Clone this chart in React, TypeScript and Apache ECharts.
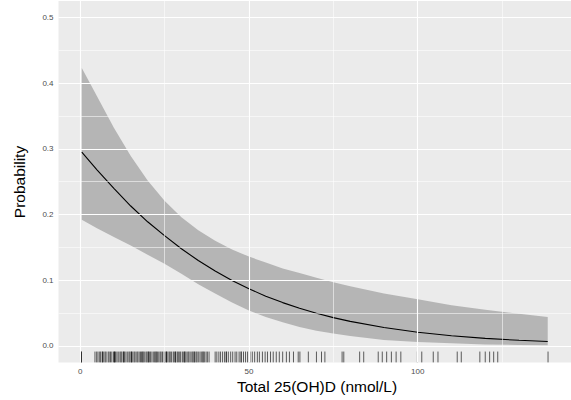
import React, { useEffect, useRef } from "react";
import * as echarts from "echarts";

// x positions (nmol/L) at which the fitted curve and its band were read
const xFit = [0.5, 5, 10, 15, 20, 25, 30, 35, 40, 45, 50, 55, 60, 65, 70, 75, 80, 90, 100, 110, 120, 130, 138.5];
const fitP = [0.295, 0.268, 0.24, 0.213, 0.189, 0.168, 0.148, 0.13, 0.114, 0.0996, 0.087, 0.0758, 0.066, 0.0573, 0.0498, 0.0431, 0.0374, 0.028, 0.0209, 0.0156, 0.0116, 0.0086, 0.0067];
const upperP = [0.423, 0.38, 0.332, 0.289, 0.252, 0.221, 0.196, 0.176, 0.16, 0.147, 0.136, 0.127, 0.118, 0.111, 0.104, 0.097, 0.091, 0.08, 0.071, 0.062, 0.055, 0.049, 0.044];
const lowerP = [0.192, 0.179, 0.166, 0.153, 0.139, 0.125, 0.11, 0.094, 0.08, 0.066, 0.054, 0.044, 0.036, 0.029, 0.023, 0.019, 0.015, 0.009, 0.006, 0.004, 0.0024, 0.0015, 0.001];

// observed Total 25(OH)D values (rug)
const rugX = [
  0.4, 0.4,
  4.4, 4.9, 5.3, 5.8, 6.1, 6.6, 6.6, 7.0, 7.4, 7.7, 8.3, 8.6, 9.0, 9.4, 9.9, 10.2, 10.2, 10.5, 10.9, 11.3,
  11.8, 12.1, 12.4, 12.9, 12.9, 13.2, 13.6, 14.1, 14.5, 14.8, 15.2, 15.2, 15.6, 16.0, 16.3, 16.8, 17.1,
  17.5, 17.9, 18.2, 18.6, 18.6, 19.0, 19.5, 19.8, 20.2, 20.2, 20.6, 20.9, 21.3, 21.8, 22.1, 22.5, 22.5,
  22.9, 23.3, 23.7, 24.0, 24.4, 24.9, 25.2, 25.6, 25.6, 26.0, 26.4, 26.7, 27.1, 27.6, 27.9, 28.3, 28.3,
  28.8, 29.1, 29.5, 29.8, 30.3, 30.7, 31.0, 31.0, 31.4, 31.9, 32.2, 32.6, 33.1, 33.4, 33.8, 33.8, 34.3,
  34.6, 35.0, 35.5, 35.9, 36.4, 36.4, 36.8, 37.3, 37.7, 38.2, 40.0, 40.5, 41.1, 41.6, 42.2, 42.8, 43.3,
  43.3, 43.9, 44.6, 45.2, 45.9, 46.4, 47.1, 47.7, 47.7, 48.4, 49.0, 49.6, 50.3, 51.0, 51.7, 52.5, 53.1,
  54.0, 54.8, 55.5, 56.4, 57.2, 58.1, 59.0, 60.0, 61.1, 62.0, 63.2, 64.6, 65.1, 67.6, 70.0, 71.5, 72.5,
  77.6, 78.1, 82.8, 84.0, 88.3, 89.5, 90.8, 92.2, 93.6, 95.0, 99.9, 101.2, 104.6, 106.0, 111.7, 112.9,
  118.4, 120.0, 121.3, 122.5, 123.7, 138.6,
];

const xTicks = [0, 50, 100];
const xMinor = [25, 75, 125];
const yTicks = [0, 0.1, 0.2, 0.3, 0.4, 0.5];
const yMinor = [0.05, 0.15, 0.25, 0.35, 0.45];

const X_MIN = -6.4;
const X_MAX = 145.4;
const Y_MIN = -0.025;
const Y_MAX = 0.525;
const RUG_TOP = -0.0085;

export default function App() {
  const ref = useRef<HTMLDivElement>(null);

  useEffect(() => {
    if (!ref.current) return;
    const chart = echarts.init(ref.current, null, { renderer: "svg" });

    const gridMarks = [
      ...xMinor.map((v) => ({ xAxis: v, lineStyle: { width: 0.55 } })),
      ...yMinor.map((v) => ({ yAxis: v, lineStyle: { width: 0.55 } })),
      ...xTicks.map((v) => ({ xAxis: v, lineStyle: { width: 1.1 } })),
      ...yTicks.map((v) => ({ yAxis: v, lineStyle: { width: 1.1 } })),
    ];

    const font = "Liberation Sans, Arial, Helvetica, sans-serif";

    chart.setOption({
      animation: false,
      backgroundColor: "#FFFFFF",
      grid: {
        left: 58.5,
        top: 1,
        width: 516,
        height: 361.4,
        show: true,
        backgroundColor: "#EBEBEB",
        borderWidth: 0,
      },
      xAxis: {
        type: "value",
        min: X_MIN,
        max: X_MAX,
        axisLine: { show: false },
        splitLine: { show: false },
        axisTick: {
          show: true,
          customValues: xTicks,
          length: 3.5,
          lineStyle: { color: "#333333", width: 1 },
        },
        axisLabel: {
          customValues: xTicks,
          color: "#4D4D4D",
          fontSize: 8,
          margin: 5,
          fontFamily: font,
        },
      },
      yAxis: {
        type: "value",
        min: Y_MIN,
        max: Y_MAX,
        axisLine: { show: false },
        splitLine: { show: false },
        axisTick: {
          show: true,
          customValues: yTicks,
          length: 3.5,
          lineStyle: { color: "#333333", width: 1 },
        },
        axisLabel: {
          customValues: yTicks,
          color: "#4D4D4D",
          fontSize: 8,
          margin: 5,
          fontFamily: font,
          formatter: (v: number) => v.toFixed(1),
        },
      },
      graphic: [
        {
          type: "text",
          x: 19,
          y: 182,
          rotation: Math.PI / 2,
          style: {
            text: "Probability",
            fontSize: 15.5,
            fontFamily: font,
            fill: "#000000",
            textAlign: "center",
            textVerticalAlign: "middle",
          },
        },
        {
          type: "text",
          x: 317,
          y: 386,
          style: {
            text: "Total 25(OH)D (nmol/L)",
            fontSize: 15.5,
            fontFamily: font,
            fill: "#000000",
            textAlign: "center",
            textVerticalAlign: "middle",
          },
        },
      ],
      series: [
        {
          type: "line",
          data: [],
          z: 1,
          silent: true,
          markLine: {
            silent: true,
            symbol: ["none", "none"],
            label: { show: false },
            animation: false,
            lineStyle: { color: "#FFFFFF", type: "solid" },
            data: gridMarks,
          },
        },
        {
          type: "custom",
          z: 2,
          silent: true,
          data: [[0, 0]],
          renderItem: (_params: any, api: any) => {
            const pts: number[][] = [];
            for (let i = 0; i < xFit.length; i++) pts.push(api.coord([xFit[i], upperP[i]]));
            for (let i = xFit.length - 1; i >= 0; i--) pts.push(api.coord([xFit[i], lowerP[i]]));
            return {
              type: "polygon",
              shape: { points: pts },
              style: { fill: "rgba(153,153,153,0.67)", stroke: "none" },
            };
          },
        },
        {
          type: "line",
          z: 3,
          silent: true,
          data: xFit.map((x, i) => [x, fitP[i]]),
          showSymbol: false,
          symbol: "none",
          smooth: false,
          lineStyle: { color: "#000000", width: 1.1 },
        },
        {
          type: "custom",
          z: 3,
          silent: true,
          data: rugX.map((x) => [x]),
          renderItem: (_params: any, api: any) => {
            const x = api.value(0);
            const p1 = api.coord([x, Y_MIN]);
            const p2 = api.coord([x, RUG_TOP]);
            return {
              type: "line",
              shape: { x1: p1[0], y1: p1[1], x2: p2[0], y2: p2[1] },
              style: { stroke: "rgba(0,0,0,0.62)", lineWidth: 1 },
            };
          },
        },
      ],
    });

    return () => chart.dispose();
  }, []);

  return (
    <div
      ref={ref}
      style={{ position: "fixed", left: 0, top: 0, width: 571, height: 400 }}
    />
  );
}
